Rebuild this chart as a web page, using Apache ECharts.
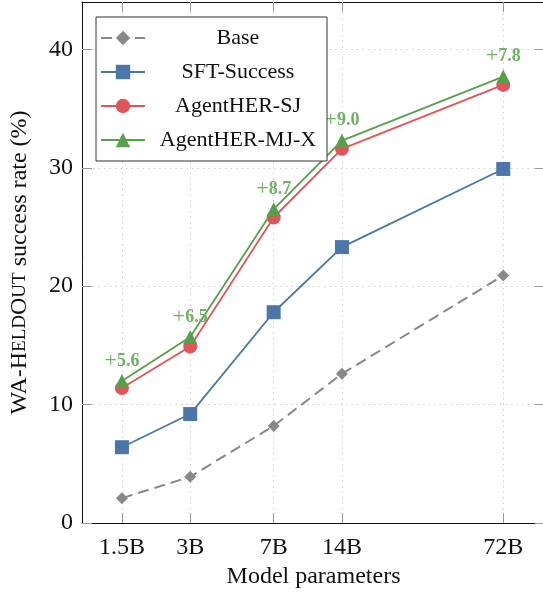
<!DOCTYPE html>
<html>
<head>
<meta charset="utf-8">
<script src="https://cdn.jsdelivr.net/npm/echarts@6/dist/echarts.min.js"></script>
<style>html,body{margin:0;padding:0;background:#fff;}#c{width:543px;height:592px;}</style>
</head>
<body>
<div id="c"></div>
<script>
const sizes = [1.5, 3, 7, 14, 72];
const tickLabels = ['1.5B', '3B', '7B', '14B', '72B'];
const yTicks = [0, 10, 20, 30, 40];
const base = [2.1, 3.9, 8.2, 12.6, 20.9];
const sftSuccess = [6.4, 9.2, 17.8, 23.3, 29.9];
const agentSJ = [11.4, 14.9, 25.8, 31.6, 37.0];
const agentMJX = [12.0, 15.7, 26.5, 32.3, 37.7];
const gains = ['5.6', '6.5', '8.7', '9.0', '7.8'];

const FONT = '"Liberation Serif", "DejaVu Serif", serif';
const pairs = arr => sizes.map((s, i) => [s, arr[i]]);
const labelMap = {};
sizes.forEach((s, i) => labelMap[s] = tickLabels[i]);

const chart = echarts.init(document.getElementById('c'), null, {renderer: 'canvas'});
const gridLine = {show: true, lineStyle: {color: '#cfcfcf', type: [1.5, 4], width: 1}};
const tickStyle = {color: '#999', width: 1};

chart.setOption({
  animation: false,
  backgroundColor: '#fff',
  textStyle: {fontFamily: FONT},
  grid: {left: 82, top: 2, width: 463, height: 521, containLabel: false, outerBoundsMode: 'none'},
  legend: {
    show: true, left: 96, top: 17, orient: 'vertical',
    padding: [10, 1, 10, 4],
    itemWidth: 44, itemHeight: 18, itemGap: 12,
    backgroundColor: '#fff', borderColor: '#333', borderWidth: 1, z: 20,
    data: ['Base', 'SFT-Success', 'AgentHER-SJ', 'AgentHER-MJ-X'],
    formatter: n => '{c|' + n + '}',
    textStyle: {fontFamily: FONT, fontSize: 22, color: '#111',
      rich: {c: {width: 176, align: 'center', fontFamily: FONT, fontSize: 22, lineHeight: 20, color: '#111'}}}
  },
  xAxis: [{
    type: 'log', logBase: 10, min: 1, max: 110, position: 'bottom',
    name: 'Model parameters', nameLocation: 'middle', nameGap: 42,
    nameTextStyle: {fontFamily: FONT, fontSize: 24, color: '#111'},
    axisLine: {show: true, lineStyle: {color: '#111', width: 1}},
    axisTick: {show: true, inside: true, length: 10, lineStyle: tickStyle, customValues: sizes},
    axisLabel: {show: true, customValues: sizes, formatter: v => labelMap[v] || '', fontFamily: FONT, fontSize: 24, color: '#111', margin: 13},
    splitLine: gridLine, minorTick: {show: false}, minorSplitLine: {show: false}
  }, {
    type: 'log', logBase: 10, min: 1, max: 110, position: 'top',
    axisLine: {show: true, onZero: false, lineStyle: {color: '#111', width: 1}},
    axisTick: {show: true, inside: true, length: 10, lineStyle: tickStyle, customValues: sizes},
    axisLabel: {show: false}, splitLine: {show: false}
  }],
  yAxis: [{
    type: 'value', min: 0, max: 44, interval: 10, position: 'left',
    name: 'WA-H{s|ELD}O{s|UT} success rate (%)', nameLocation: 'middle', nameGap: 50,
    nameTextStyle: {fontFamily: FONT, fontSize: 24, color: '#111',
      rich: {s: {fontFamily: FONT, fontSize: 19, color: '#111'}}},
    axisLine: {show: true, onZero: false, lineStyle: {color: '#111', width: 1}},
    axisTick: {show: true, inside: true, length: 10, lineStyle: tickStyle, customValues: yTicks},
    axisLabel: {show: true, customValues: yTicks, fontFamily: FONT, fontSize: 24, color: '#111', margin: 9},
    splitLine: gridLine
  }, {
    type: 'value', min: 0, max: 44, interval: 10, position: 'right',
    axisLine: {show: true, onZero: false, lineStyle: {color: '#111', width: 1}},
    axisTick: {show: true, inside: true, length: 10, lineStyle: tickStyle, customValues: yTicks},
    axisLabel: {show: false}, splitLine: {show: false}
  }],
  series: [{
    name: 'Base', type: 'line', data: pairs(base),
    symbol: 'diamond', symbolSize: 12,
    lineStyle: {color: '#888', width: 2, type: [11, 6]},
    itemStyle: {color: '#888'}, z: 2
  }, {
    name: 'SFT-Success', type: 'line', data: pairs(sftSuccess),
    symbol: 'rect', symbolSize: 14,
    lineStyle: {color: '#4a76a8', width: 1.8},
    itemStyle: {color: '#4a76a8'}, z: 3
  }, {
    name: 'AgentHER-SJ', type: 'line', data: pairs(agentSJ),
    symbol: 'circle', symbolSize: 14,
    lineStyle: {color: '#e15459', width: 1.8},
    itemStyle: {color: '#e15459'}, z: 4
  }, {
    name: 'AgentHER-MJ-X', type: 'line', data: pairs(agentMJX),
    symbol: 'triangle', symbolSize: 14,
    lineStyle: {color: '#56a04b', width: 1.8},
    itemStyle: {color: '#56a04b'}, z: 5,
    label: {
      show: true, position: 'top', distance: 2,
      formatter: p => '{p|+}{n|' + gains[p.dataIndex] + '}',
      rich: {
        p: {fontFamily: FONT, fontSize: 22, color: '#6db163'},
        n: {fontFamily: FONT, fontSize: 18, fontWeight: 'bold', color: '#6db163'}
      }
    }
  }]
});
</script>
</body>
</html>
